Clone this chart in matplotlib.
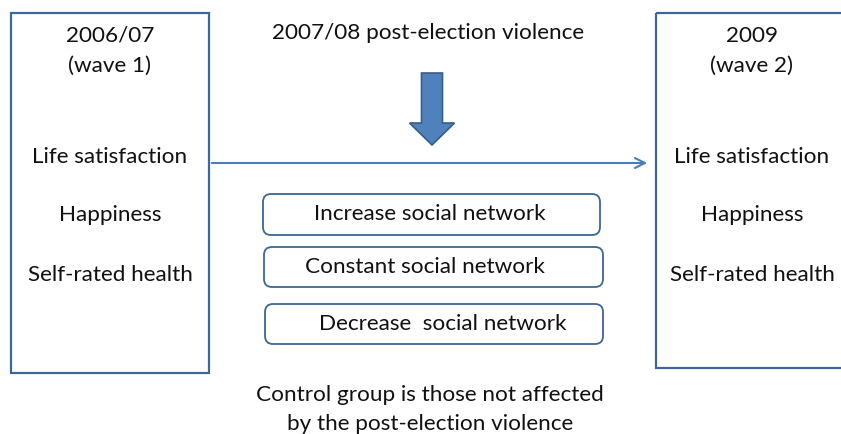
import matplotlib.pyplot as plt
from matplotlib.patches import Rectangle, FancyBboxPatch, FancyArrow

plt.rcParams['font.family'] = ['Lato', 'DejaVu Sans']

wave1_head = ["2006/07", "(wave 1)"]
wave2_head = ["2009", "(wave 2)"]
outcomes = ["Life satisfaction", "Happiness", "Self-rated health"]
event = "2007/08 post-election violence"
groups = ["Increase social network", "Constant social network", "Decrease  social network"]
note = ["Control group is those not affected", "by the post-election violence"]

edge = '#3d6794'
fs = 16.2

fig = plt.figure(figsize=(8.41, 4.34), dpi=100)
ax = fig.add_axes([0, 0, 1, 1])
ax.set_xlim(0, 841)
ax.set_ylim(434, 0)
ax.axis('off')

# wave boxes
ax.add_patch(Rectangle((11, 13), 198, 360, fill=False, ec=edge, lw=1.6))
ax.add_patch(Rectangle((656, 13), 200, 355, fill=False, ec=edge, lw=1.6, clip_on=True))

for cx, head in [(110, wave1_head), (752, wave2_head)]:
    ax.text(cx, 36, head[0], ha='center', va='center', fontsize=fs, color='#111111')
    ax.text(cx, 66, head[1], ha='center', va='center', fontsize=fs, color='#111111')
    for y, t in zip([157, 215, 275], outcomes):
        ax.text(cx, y, t, ha='center', va='center', fontsize=fs, color='#111111')

# horizontal arrow
ax.annotate('', xy=(650, 163), xytext=(209, 163),
            arrowprops=dict(arrowstyle='->', color='#4a7ebb', lw=1.5, mutation_scale=18))

# event and down arrow
ax.text(428, 33, event, ha='center', va='center', fontsize=fs, color='#111111')
ax.add_patch(FancyArrow(432, 73, 0, 72, width=21, head_width=45, head_length=22,
                        length_includes_head=True, fc='#4f81bd', ec='#385d8a', lw=1.2))

# group boxes
boxes = [(263, 194, 337, 41), (264, 247, 339, 40), (265, 304, 338, 40)]
centers = [430, 425, 443]
for (x, y, w, h), t, cx in zip(boxes, groups, centers):
    ax.add_patch(FancyBboxPatch((x, y), w, h, boxstyle='round,pad=0,rounding_size=8',
                                fill=False, ec=edge, lw=1.3))
    ax.text(cx, y + h / 2, t, ha='center', va='center', fontsize=fs, color='#111111')

ax.text(430, 395, note[0], ha='center', va='center', fontsize=fs, color='#111111')
ax.text(430, 424, note[1], ha='center', va='center', fontsize=fs, color='#111111')

fig.savefig('out.png', dpi=100)
